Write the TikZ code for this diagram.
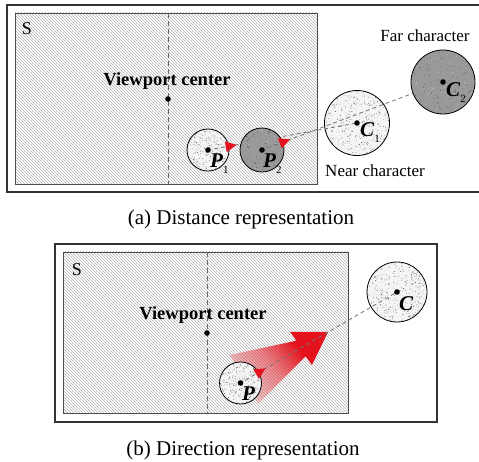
\documentclass[tikz,border=0pt]{standalone}
\usepackage{fontspec}
\setmainfont{Liberation Serif}
\usetikzlibrary{patterns,fadings,calc}
\definecolor{ptr}{RGB}{228,18,28}
\pgfdeclarehorizontalshading{arrowshade}{100bp}{color(0bp)=(black!88); color(25bp)=(black!85); color(48bp)=(black!50); color(66bp)=(white); color(100bp)=(white)}
\pgfdeclarefading{arrowfade}{\pgfuseshading{arrowshade}}
\newcommand\speckle[4]{%
  \pgfmathtruncatemacro\nn{#2}%
  \foreach \k in {1,...,\nn}{%
    \pgfmathsetmacro\dx{rand*#3/2}%
    \pgfmathsetmacro\dy{rand*#3/2}%
    \pgfmathsetmacro\rr{0.2+#4*rnd}%
    \fill[#1] ($(path picture bounding box.center)+(\dx,\dy)$) circle (\rr pt);}}
\newcommand\pointer[3]{%
  \pgfmathsetmacro\pta{#3+8}\pgfmathsetmacro\ptb{#3-3}%
  \coordinate (pb) at ($(#1.center)!\ptb pt!(#2.center)$);
  \fill[ptr] ($(#1.center)!\pta pt!(#2.center)$) -- ($(pb)!5.5pt!90:(#2.center)$) -- ($(pb)!5.5pt!-90:(#2.center)$) -- cycle;}
\begin{document}
\begin{tikzpicture}[x=1pt,y=-1pt,
  frame/.style={draw=black!80, line width=1.4pt},
  scene/.style={draw=black!70, line width=0.8pt, pattern=north west lines, pattern color=black!30},
  vdash/.style={draw=black!60, line width=0.7pt, dash pattern=on 5pt off 3pt},
  link/.style={draw=black!55, line width=0.8pt, dash pattern=on 4pt off 3pt},
  lightchar/.style={circle, draw=black, line width=0.8pt, fill=black!4, minimum size=#1pt, inner sep=0pt,
    path picture={\speckle{black!70}{#1*5}{#1}{0.3}\speckle{black!35}{#1*4}{#1}{0.3}}},
  darkchar/.style={circle, draw=black, line width=0.8pt, fill=black!40, minimum size=#1pt, inner sep=0pt,
    path picture={\speckle{black!75}{#1*2}{#1}{0.3}\speckle{black!22}{#1*2}{#1}{0.3}}},
  cdot/.style={fill=black},
  lab/.style={inner sep=0pt, font=\fontsize{21}{21}\selectfont},
  vp/.style={inner sep=0pt, font=\fontsize{18.5}{18.5}\selectfont\bfseries, anchor=base},
  stxt/.style={inner sep=0pt, font=\fontsize{18}{18}\selectfont, anchor=base},
  note/.style={inner sep=0pt, font=\fontsize{17}{17}\selectfont, anchor=base},
  caption/.style={inner sep=0pt, font=\fontsize{21}{21}\selectfont}
]
\pgfmathsetseed{7}
\useasboundingbox (0,0) rectangle (479,462);

% ---------- panel (a)
\draw[frame] (490,5) -- (7,5) -- (7,192) -- (490,192);
\draw[scene] (15,13) rectangle (317,184);
\draw[vdash] (168,13) -- (168,184);
\node[stxt] (Sa) at (27,35) {S};
\node[vp] (VPa) at (167,86) {Viewport center};
\coordinate (VCa) at (168,99);
\fill[cdot] (VCa) circle (2.8pt);

\node[lightchar=65] (C1) at (357,123) {};
\node[darkchar=64] (C2) at (443,82) {};
\node[lightchar=42] (P1) at (208,150) {};
\draw[link] ($(P1.center)!6pt!(C1.center)$) -- (C1.center);
\node[darkchar=44] (P2) at (262,150) {};
\draw[link] ($(P2.center)!6pt!(C2.center)$) -- (C2);
\foreach \n in {P1,P2,C1,C2} \fill[cdot] (\n.center) circle (2.8pt);
\pointer{P1}{C1}{21}
\pointer{P2}{C2}{22}

\node[lab, anchor=base west] (P1l) at (210,168) {\textbf{\textit{P}}\raisebox{-6pt}{\fontsize{11}{11}\selectfont 1}};
\node[lab, anchor=base west] (P2l) at (263,168) {\textbf{\textit{P}}\raisebox{-6pt}{\fontsize{11}{11}\selectfont 2}};
\node[lab, anchor=base west] (C1l) at (360,137) {\textbf{\textit{C}}\raisebox{-6pt}{\fontsize{11}{11}\selectfont 1}};
\node[lab, anchor=base west] (C2l) at (446,97) {\textbf{\textit{C}}\raisebox{-6pt}{\fontsize{11}{11}\selectfont 2}};
\node[note] (far) at (425,42) {Far character};
\node[note] (near) at (375,177) {Near character};
\node[caption] (capa) at (241,219) {(a) Distance representation};

% ---------- panel (b)
\draw[frame] (55,244) rectangle (437,422);
\draw[scene] (63,252) rectangle (348,413);
\draw[vdash] (207,252) -- (207,413);
\node[stxt] (Sb) at (77,276) {S};
\node[vp] (VPb) at (203,319) {Viewport center};
\coordinate (VCb) at (207,333);
\fill[cdot] (VCb) circle (2.8pt);

\coordinate (s1) at (229.8,355);
\coordinate (s2) at (296.5,340.7);
\coordinate (h1) at (290,332);
\coordinate (tip) at (328,332);
\coordinate (h2) at (312,365);
\coordinate (s3) at (305.5,356.3);
\coordinate (s4) at (258,404);
\fill[ptr, path fading=arrowfade, fading angle=30] (s1) -- (s2) -- (h1) -- (tip) -- (h2) -- (s3) -- (s4) -- cycle;

\node[lightchar=60] (C) at (397,292) {};
\node[lightchar=42] (P) at (240.5,383) {};
\draw[link] ($(P.center)!6pt!(C.center)$) -- (C.center);
\foreach \n in {P,C} \fill[cdot] (\n.center) circle (2.8pt);
\pointer{P}{C}{21}
\node[lab, anchor=base west] (Pl) at (242,400) {\textbf{\textit{P}}};
\node[lab, anchor=base west] (Cl) at (399,310) {\textbf{\textit{C}}};
\node[caption] (capb) at (243,450) {(b) Direction representation};
\end{tikzpicture}
\end{document}
